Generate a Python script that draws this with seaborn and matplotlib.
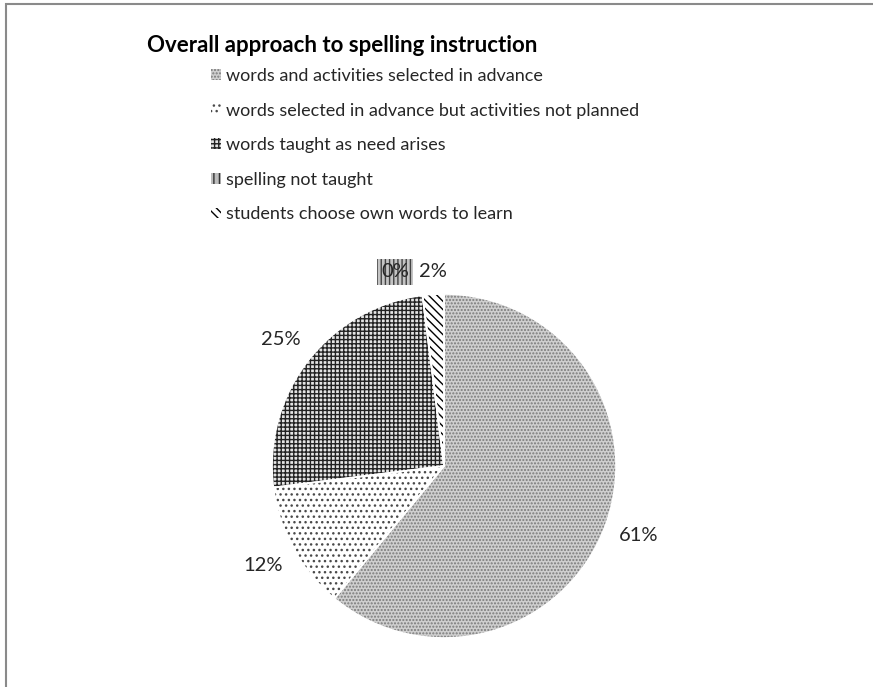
import matplotlib
matplotlib.use('Agg')
import matplotlib.pyplot as plt
from matplotlib.patches import Rectangle
import seaborn as sns

# data
categories = ['words and activities selected in advance',
              'words selected in advance but activities not planned',
              'words taught as need arises',
              'spelling not taught',
              'students choose own words to learn']
shares = [61, 12, 25, 0, 2]

# black & white pattern fills, one per slice
face_colors = ['#cfcfcf', 'white', '#e4e4e4', '#bdbdbd', 'white']
hatch_colors = ['#7a7a7a', '#4a4a4a', '#222222', '#333333', '#000000']
hatches = ['.....', '...', '++++', '|||', '\\\\\\\\']

sns.set_theme(style='white')
plt.rcParams['font.family'] = ['Lato', 'DejaVu Sans']
plt.rcParams['hatch.linewidth'] = 1.0

fig = plt.figure(figsize=(8.73, 6.87), dpi=100)
ax = fig.add_axes([0.2525, 0.0338, 0.5123, 0.6134])

wedges, texts, autotexts = ax.pie(
    shares, startangle=90, counterclock=False, radius=1,
    autopct='%1.0f%%', pctdistance=1.2,
    wedgeprops=dict(linewidth=0),
    textprops=dict(fontsize=14.5, color='#262626'))
for w, fc, hc, h in zip(wedges, face_colors, hatch_colors, hatches):
    w.set_facecolor(fc)
    w.set_edgecolor(hc)
    w.set_hatch(h)

# thin white separators between slices
ax.pie(shares, startangle=90, counterclock=False, radius=1,
       wedgeprops=dict(facecolor='none', edgecolor='white', linewidth=1.2))

# the two small slices have their labels pushed apart
autotexts[3].set_position((-0.285, 1.13))
autotexts[3].set_bbox(dict(boxstyle='square,pad=0.22', facecolor='#c4c4c4',
                           edgecolor='#444444', hatch='||||', linewidth=0))
autotexts[4].set_position((-0.065, 1.13))

ax.set_xlim(-1.3, 1.3)
ax.set_ylim(-1.15, 1.3)
ax.set_aspect('equal')
ax.axis('off')

fig.text(147 / 873, 1 - 45 / 687, 'Overall approach to spelling instruction',
         fontsize=16, fontweight='bold', ha='left', va='center', color='black')

ax.legend(wedges, categories, loc='upper left',
          bbox_to_anchor=(211 / 873, 1 - 68 / 687), bbox_transform=fig.transFigure,
          frameon=False, fontsize=13, handlelength=0.55, handleheight=0.55,
          handletextpad=0.3, labelspacing=1.03, borderaxespad=0, borderpad=0)

# grey frame edge, as in the source screenshot
fig.add_artist(Rectangle((6 / 873, -0.05), 2, 1.05 - 3.5 / 687,
                         transform=fig.transFigure, fill=False,
                         edgecolor='#8a8a8a', linewidth=1.5))

fig.savefig('out.png', dpi=100)
